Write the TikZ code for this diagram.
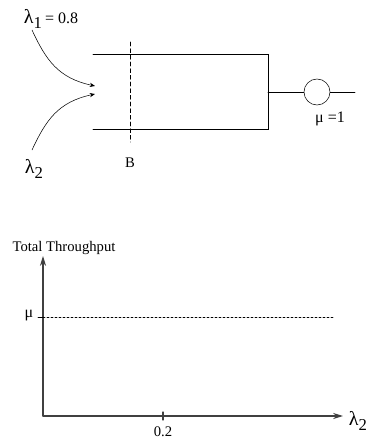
\documentclass[tikz,border=0pt]{standalone}
\usepackage{fontspec}
\setmainfont{Liberation Serif}
\usetikzlibrary{arrows.meta}

\begin{document}
\begin{tikzpicture}[x=0.75pt,y=-0.75pt,>={Stealth[length=1.4mm,width=1.1mm]},font=\fontsize{11}{12}\selectfont,line cap=round]
\useasboundingbox (0,0) rectangle (369,438);
% queue with buffer and server
\coordinate (qtl) at (93,54);
\coordinate (qtr) at (268,54);
\coordinate (qbl) at (93,129);
\coordinate (qbr) at (268,129);
\coordinate (qmid) at (268,92);
\coordinate (bt) at (130,42);
\coordinate (bb) at (130,142);
\coordinate (out) at (355,92);
\draw (qtl) -- (qtr) -- (qbr) -- (qbl);
\draw[dash pattern=on 3pt off 2pt] (bt) -- (bb);
\node (blabel) at (130,163) {B};
\node[circle,draw,minimum size=19.5pt,inner sep=0pt] (srv) at (317,92) {};
\draw (qmid) -- (srv) -- (out);
\node (mulabel) at (330,119) {\fontsize{12}{13}\selectfont μ =1};
% arrivals
\node (lam1) at (51,19) {\fontsize{15}{16}\selectfont λ\raisebox{-0.45ex}{\fontsize{12.5}{13}\selectfont 1}\,\fontsize{12}{13}\selectfont = 0.8};
\node (lam2) at (34,169) {\fontsize{15}{16}\selectfont λ\raisebox{-0.45ex}{\fontsize{12.5}{13}\selectfont 2}};
\coordinate (in1) at (32,30);
\coordinate (in2) at (32,150);
\coordinate (e1) at (95,86);
\coordinate (e2) at (95,94);
\draw[->] (in1) .. controls (46,60) and (58,78) .. (e1);
\draw[->] (in2) .. controls (46,120) and (58,102) .. (e2);
% throughput plot
\coordinate (o) at (43,416);
\coordinate (ytip) at (43,256);
\coordinate (xtip) at (343,416);
\draw[gray!50!black,line width=0.9pt,-{Stealth[length=2.6mm,width=1.6mm]}] (o) -- (ytip);
\draw[gray!50!black,line width=0.9pt,-{Stealth[length=2.6mm,width=1.6mm]}] (o) -- (xtip);
\node (ylabel) at (64,248) {Total Throughput};
\node (xlabel) at (358,421) {\fontsize{15}{16}\selectfont λ\raisebox{-0.45ex}{\fontsize{12.5}{13}\selectfont 2}};
\draw[gray!50!black,line width=0.8pt] (163,412) -- (163,420);
\node (tick) at (163,432) {0.2};
\draw (38,317) -- (43,317);
\node (mu) at (29,316) {\fontsize{12}{13}\selectfont μ};
\draw[dash pattern=on 1.5pt off 1.5pt] (43,317) -- (333,317);
\end{tikzpicture}
\end{document}
